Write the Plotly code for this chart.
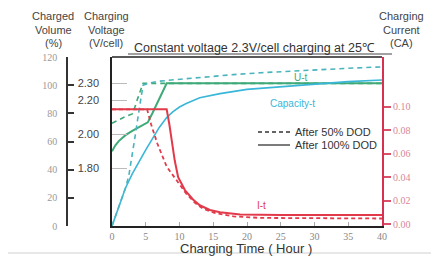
import plotly.graph_objects as go

# ---------------- data ----------------
hours_u100 = [0, 0.5, 1, 1.5, 2, 3, 4, 5, 5.3, 6, 7, 8.1, 12, 20, 30, 40]
volt_u100 = [1.90, 1.935, 1.96, 1.98, 1.995, 2.02, 2.04, 2.06, 2.07, 2.125, 2.21, 2.30, 2.30, 2.30, 2.30, 2.30]

hours_u50 = [0, 1, 2, 3, 3.1, 3.8, 4.6, 10, 20, 30, 40]
volt_u50 = [2.065, 2.085, 2.105, 2.12, 2.125, 2.21, 2.30, 2.30, 2.30, 2.30, 2.30]

hours_c100 = [0, 1, 2, 3, 4, 5, 6, 7, 8.1, 9, 10, 11, 13, 16, 20, 25, 30, 35, 40]
cap_c100 = [0, 14, 27, 37, 46, 54, 62, 70, 77, 81, 84.5, 87, 91, 94, 97, 99, 101, 102.5, 103.7]

hours_c50 = [0, 1, 2, 2.5, 3, 3.5, 4, 4.6, 5.5, 7, 9.6, 13, 18, 22, 28, 35, 40]
cap_c50 = [0, 13, 27, 36, 50, 66, 82, 100, 101.5, 102.8, 104, 105.5, 107.5, 108.8, 110.5, 112, 113]

hours_i100 = [0, 8.1, 8.5, 8.9, 9.3, 9.8, 10.8, 12, 13, 14.5, 16, 19, 25, 40]
curr_i100 = [0.098, 0.098, 0.085, 0.069, 0.054, 0.040, 0.029, 0.021, 0.016, 0.012, 0.010, 0.0082, 0.0077, 0.0077]

hours_i50 = [0, 5.2, 5.8, 6.7, 8.1, 9.6, 11, 12.3, 13.5, 15.3, 18, 22, 30, 40]
curr_i50 = [0.098, 0.098, 0.085, 0.069, 0.049, 0.037, 0.026, 0.018, 0.013, 0.0094, 0.0065, 0.0052, 0.0047, 0.0047]

x_ticks = [0, 5, 10, 15, 20, 25, 30, 35, 40]
volt_ticks = [1.80, 2.00, 2.20, 2.30]
cap_ticks = [0, 20, 40, 60, 80, 100, 120]
curr_ticks = [0.00, 0.02, 0.04, 0.06, 0.08, 0.10]

# ---------------- layout helpers ----------------
# the page body has an 8px margin, so the figure is drawn 8px smaller
OFF = 8
W, H = 439 - OFF, 258 - OFF
ML, MR, MT, MB = 40 - OFF, 57, 57 - OFF, 32
PW, PH = W - ML - MR, H - MT - MB


def px_x(px):
    """target-image pixel x -> paper x"""
    return (px - OFF - ML) / PW


def px_y(py):
    """target-image pixel y -> paper y"""
    return (H - MB - (py - OFF)) / PH


GREEN = "#3faa78"
CYAN = "#3ab6d8"
TEAL = "#4ab4bc"
RED = "#e23a4a"
SANS = "Liberation Sans, Arial, sans-serif"
SERIF = "Liberation Serif, Times New Roman, serif"

fig = go.Figure()
fig.add_trace(go.Scatter(x=hours_u100, y=volt_u100, mode="lines", yaxis="y",
                         line=dict(color=GREEN, width=2)))
fig.add_trace(go.Scatter(x=hours_u50, y=volt_u50, mode="lines", yaxis="y",
                         line=dict(color=GREEN, width=1.6, dash="5px,4px")))
fig.add_trace(go.Scatter(x=hours_c100, y=cap_c100, mode="lines", yaxis="y2",
                         line=dict(color=CYAN, width=1.6)))
fig.add_trace(go.Scatter(x=hours_c50, y=cap_c50, mode="lines", yaxis="y2",
                         line=dict(color=TEAL, width=1.6, dash="5px,4px")))
fig.add_trace(go.Scatter(x=hours_i100, y=curr_i100, mode="lines", yaxis="y3",
                         line=dict(color=RED, width=2)))
fig.add_trace(go.Scatter(x=hours_i50, y=curr_i50, mode="lines", yaxis="y3",
                         line=dict(color=RED, width=1.8, dash="4px,3px")))

fig.update_layout(
    width=W, height=H, margin=dict(l=ML, r=MR, t=MT, b=MB),
    paper_bgcolor="white", plot_bgcolor="white", showlegend=False,
    xaxis=dict(domain=[px_x(112), 1], range=[0, 40], tickvals=x_ticks,
               ticks="inside", ticklen=4, tickcolor="#aaa", showline=True,
               linecolor="#222", linewidth=1.5, showgrid=False, zeroline=False,
               tickfont=dict(family=SERIF, size=10, color="#888")),
    yaxis=dict(range=[1.46, 2.455], tickvals=volt_ticks,
               ticktext=["%.2f" % v for v in volt_ticks], ticks="inside",
               ticklen=15, tickcolor="#bbb", tickwidth=1, showline=True,
               linecolor="#222", linewidth=1.5, showgrid=False, zeroline=False,
               ticklabelstandoff=9,
               tickfont=dict(family=SANS, size=11, color="#444")),
    yaxis2=dict(range=[0, 120], tickvals=cap_ticks, overlaying="y",
                anchor="free", position=px_x(67), side="left",
                ticks="inside", ticklen=6, tickcolor="#333", tickwidth=1.5,
                showline=True, linecolor="#333", linewidth=1.5,
                showgrid=False, zeroline=False, ticklabelstandoff=7,
                tickfont=dict(family=SERIF, size=10, color="#999")),
    yaxis3=dict(range=[-0.0017, 0.1427], tickvals=curr_ticks,
                ticktext=["%.2f" % v for v in curr_ticks], overlaying="y",
                anchor="x", side="right", ticks="outside", ticklen=7,
                tickcolor="#d8506a", tickwidth=1.5, showline=True,
                linecolor="#d83050", linewidth=2, showgrid=False,
                zeroline=False,
                tickfont=dict(family=SERIF, size=10, color="#d88898")),
)

line_shapes = [
    # top frame of plot
    dict(x0=px_x(112), x1=px_x(382), y0=px_y(57), y1=px_y(57), color="#222", w=1.5, dash="solid"),
    # title underline
    dict(x0=px_x(128), x1=px_x(392), y0=px_y(54), y1=px_y(54), color="#444", w=1, dash="solid"),
    # legend samples
    dict(x0=px_x(258), x1=px_x(290), y0=px_y(132), y1=px_y(132), color="#333", w=1.3, dash="4px,3px"),
    dict(x0=px_x(258), x1=px_x(290), y0=px_y(145), y1=px_y(145), color="#333", w=1.3, dash="solid"),
    # picture border
    dict(x0=px_x(5), x1=px_x(445), y0=px_y(3), y1=px_y(3), color="#cfcfcf", w=1, dash="solid"),
    dict(x0=px_x(5), x1=px_x(5), y0=px_y(3), y1=px_y(253), color="#cfcfcf", w=1, dash="solid"),
    dict(x0=px_x(5), x1=px_x(445), y0=px_y(253), y1=px_y(253), color="#cfcfcf", w=1, dash="solid"),
]
for s in line_shapes:
    fig.add_shape(type="line", xref="paper", yref="paper", x0=s["x0"], x1=s["x1"],
                  y0=s["y0"], y1=s["y1"],
                  line=dict(color=s["color"], width=s["w"], dash=s["dash"]))


def note(text, x, y, size=10, color="#444", xanchor="center", family=SANS):
    fig.add_annotation(text=text, xref="paper", yref="paper", x=px_x(x), y=px_y(y),
                       xanchor=xanchor, yanchor="middle", showarrow=False,
                       font=dict(family=family, size=size, color=color))


note("Constant voltage 2.3V/cell charging at 25\u2103", 254, 48, size=12.5, color="#333")
axis_titles = [
    (53, ["Charged", "Volume", "(%)"]),
    (106, ["Charging", "Voltage", "(V/cell)"]),
    (401, ["Charging", "Current", "(CA)"]),
]
for cx, lines in axis_titles:
    for row, txt in zip([16, 30, 43], lines):
        note(txt, cx, row, size=11, color="#444")
note("Charging Time ( Hour )", 246, 248.5, size=13, color="#333")
note("After 50% DOD", 293, 132, size=11, color="#333", xanchor="left")
note("After 100% DOD", 293, 145, size=11, color="#333", xanchor="left")

fig.add_annotation(text="U-t", x=28, y=2.335, xref="x", yref="y", showarrow=False,
                   font=dict(family=SANS, size=10, color=GREEN))
fig.add_annotation(text="Capacity-t", x=26.7, y=87.3, xref="x", yref="y2", showarrow=False,
                   font=dict(family=SANS, size=10, color=CYAN))
fig.add_annotation(text="I-t", x=22.2, y=0.0154, xref="x", yref="y3", showarrow=False,
                   font=dict(family=SANS, size=10, color=RED))

fig.write_html("out.html")
